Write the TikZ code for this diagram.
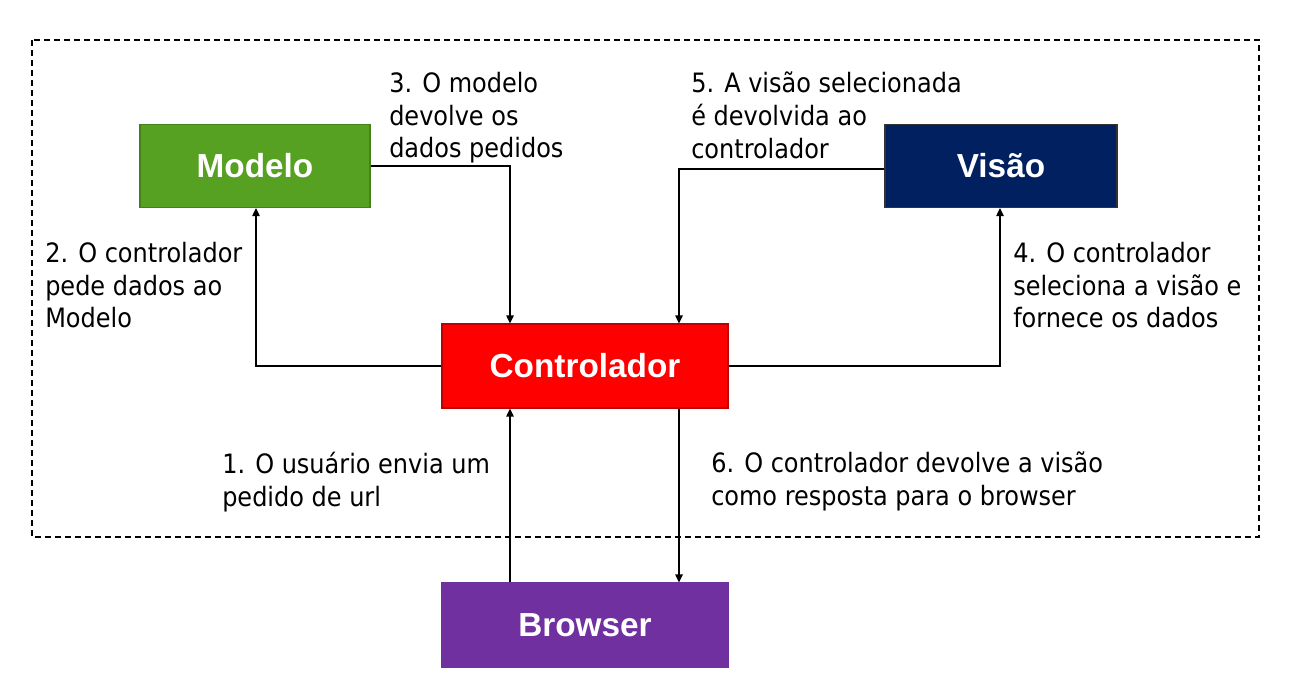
\documentclass[tikz,border=0pt]{standalone}
\usepackage{fontspec}
\setmainfont{DejaVu Sans Condensed}
\newfontfamily\boxfont{Liberation Sans}
\usetikzlibrary{arrows.meta}
\definecolor{cModelo}{HTML}{56A022}
\definecolor{cVisao}{HTML}{002060}
\definecolor{cCtrl}{HTML}{FF0000}
\definecolor{cBrowser}{HTML}{7030A0}
\tikzset{
  blk/.style={draw, line width=0.8pt, minimum width=230*0.75pt, minimum height=83*0.75pt, inner sep=0pt, text=white, font=\boxfont\bfseries\fontsize{25}{28}\selectfont},
  conn/.style={line width=1.1pt, -{Triangle[width=5.5pt,length=6pt]}},
  lbl/.style={anchor=north west, align=left, inner sep=0pt, font=\fontsize{20}{24.4}\selectfont},
}
\begin{document}
\begin{tikzpicture}[x=0.75pt,y=-0.75pt]
\useasboundingbox (0,0) rectangle (1297,700);
\draw[line width=1.5pt, dash pattern=on 4.5pt off 3pt] (32,40) rectangle (1259,537);
\node[blk, fill=cModelo, draw=cModelo!80!black] (modelo) at (255,166) {Modelo};
\node[blk, fill=cVisao, draw=black!80, minimum width=232*0.75pt] (visao) at (1001,166) {Visão};
\node[blk, fill=cCtrl, draw=cCtrl!75!black, minimum width=286*0.75pt, minimum height=84*0.75pt] (ctrl) at (585,366) {Controlador};
\node[blk, fill=cBrowser, draw=cBrowser, minimum width=286*0.75pt, minimum height=84*0.75pt] (browser) at (585,625) {Browser};
\coordinate (c1) at (256,366);
\coordinate (c2) at (510,166);
\coordinate (c3) at (679,169);
\coordinate (c4) at (1000,366);
\draw[conn] (ctrl.west) -- (c1) -- (c1 |- modelo.south);
\draw[conn] (modelo.east) -- (c2) -- (c2 |- ctrl.north);
\draw[conn] (visao.west |- c3) -- (c3) -- (c3 |- ctrl.north);
\draw[conn] (ctrl.east) -- (c4) -- (c4 |- visao.south);
\draw[conn] (browser.north -| c2) -- (c2 |- ctrl.south);
\draw[conn] (ctrl.south -| c3) -- (c3 |- browser.north);
\node[lbl] (l3) at (389,72) {3. O modelo\\devolve os\\dados pedidos};
\node[lbl] (l5) at (691,72) {5. A visão selecionada\\é devolvida ao\\controlador};
\node[lbl] (l2) at (45,242) {2. O controlador\\pede dados ao\\Modelo};
\node[lbl] (l4) at (1013,242) {4. O controlador\\seleciona a visão e\\fornece os dados};
\node[lbl] (l1) at (222,452) {1. O usuário envia um\\pedido de url};
\node[lbl] (l6) at (711,452) {6. O controlador devolve a visão\\como resposta para o browser};
\end{tikzpicture}
\end{document}
